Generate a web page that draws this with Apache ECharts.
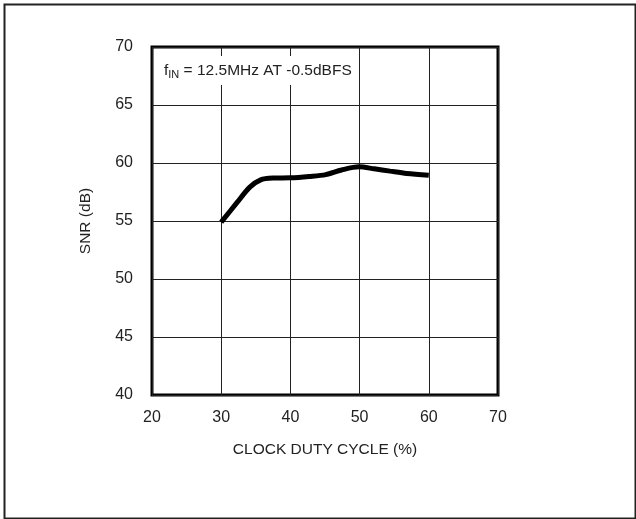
<!DOCTYPE html>
<html>
<head>
<meta charset="utf-8">
<script src="https://cdn.jsdelivr.net/npm/echarts@6/dist/echarts.min.js"></script>
<style>
  html, body { margin: 0; padding: 0; background: #fff; }
  #main { width: 636px; height: 519px; }
</style>
</head>
<body>
<div id="main"></div>
<script>
// duty cycle (%) and SNR (dB)
var dutyCycle = [30, 32.3, 34.1, 35.7, 37.5, 40, 42.7, 45.1, 47.4, 49.9, 52.1, 54.4, 56.8, 60];
var snr = [54.9, 56.6, 57.9, 58.55, 58.7, 58.72, 58.84, 59.0, 59.4, 59.67, 59.5, 59.3, 59.1, 58.95];
var xTicks = [20, 30, 40, 50, 60, 70];
var yTicks = [40, 45, 50, 55, 60, 65, 70];

var font = '"Liberation Sans Narrow", "Liberation Sans", Arial, sans-serif';
var textColor = '#222';

var points = [];
for (var i = 0; i < dutyCycle.length; i++) {
    points.push([dutyCycle[i], snr[i]]);
}

var myChart = echarts.init(document.getElementById('main'));
var option = {
    animation: false,
    backgroundColor: '#fff',
    grid: {
        left: 152, top: 47, width: 346, height: 348,
        show: true, borderColor: '#000', borderWidth: 3, backgroundColor: 'transparent'
    },
    xAxis: {
        type: 'value',
        min: xTicks[0], max: xTicks[xTicks.length - 1], interval: 10,
        name: 'CLOCK DUTY CYCLE (%)',
        nameLocation: 'middle',
        nameGap: 47,
        nameTextStyle: { fontFamily: font, fontSize: 15.5, color: textColor },
        axisLine: { show: false },
        axisTick: { show: false },
        axisLabel: { fontFamily: font, fontSize: 16, color: textColor, margin: 15 },
        splitLine: { lineStyle: { color: '#222', width: 1 } }
    },
    yAxis: {
        type: 'value',
        min: yTicks[0], max: yTicks[yTicks.length - 1], interval: 5,
        name: 'SNR (dB)',
        nameLocation: 'middle',
        nameRotate: 90,
        nameGap: 58,
        nameTextStyle: { fontFamily: font, fontSize: 15.5, color: textColor },
        axisLine: { show: false },
        axisTick: { show: false },
        axisLabel: { fontFamily: font, fontSize: 16, color: textColor, margin: 19 },
        splitLine: { lineStyle: { color: '#222', width: 1 } }
    },
    graphic: [
        {
            type: 'rect',
            left: 2, top: 2,
            shape: { width: 631, height: 514 },
            style: { fill: 'none', stroke: '#222', lineWidth: 2 },
            silent: true
        },
        {
            type: 'text',
            left: 158, top: 56,
            z: 10,
            style: {
                text: 'f{sub|IN} = 12.5MHz AT -0.5dBFS',
                fontFamily: font,
                fontSize: 15.5,
                fill: textColor,
                backgroundColor: '#fff',
                padding: [5, 5, 5, 6],
                rich: {
                    sub: { fontFamily: font, fontSize: 11, fill: textColor, verticalAlign: 'bottom', padding: [8, 0, 0, 0] }
                }
            }
        }
    ],
    series: [
        {
            type: 'line',
            data: points,
            smooth: 0.3,
            showSymbol: false,
            lineStyle: { color: '#000', width: 5 },
            z: 5
        }
    ]
};
myChart.setOption(option);
</script>
</body>
</html>
